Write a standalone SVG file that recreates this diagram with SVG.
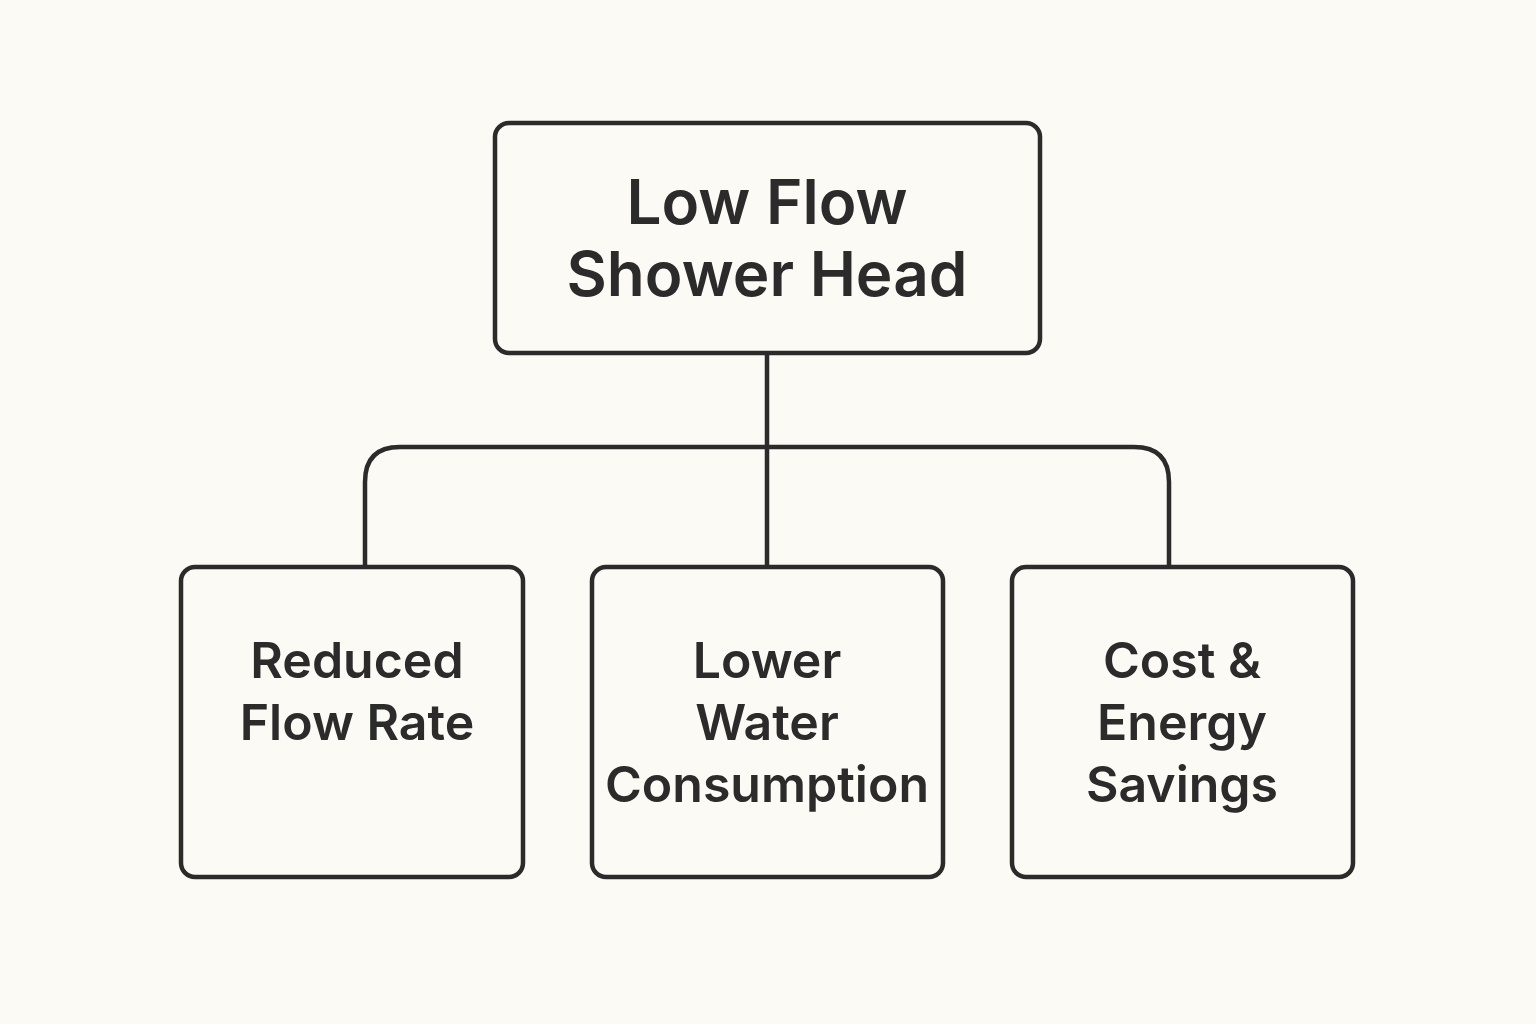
<svg xmlns="http://www.w3.org/2000/svg" width="1536" height="1024" viewBox="0 0 1536 1024">
<style>
.box{fill:none;stroke:#2b2b2b;stroke-width:4.5}
.t{font-family:Inter,"Liberation Sans",sans-serif;font-weight:600;fill:#2b2b2b;text-anchor:middle}
.big{font-size:62px}
.sm{font-size:50px}
.c{fill:none;stroke:#2b2b2b;stroke-width:4.5}
</style>
<rect width="1536" height="1024" fill="#fcfaf5"/>
<g id="connectors">
<path class="c" d="M767 353 V565"/>
<path class="c" d="M365 565 V482 Q365 447 400 447 H1134 Q1169 447 1169 482 V565"/>
</g>
<g id="root">
<rect class="box" x="495" y="123" width="545" height="230" rx="14"/>
<text class="t big" x="767" y="224">Low Flow</text>
<text class="t big" x="767" y="296">Shower Head</text>
</g>
<g id="n1">
<rect class="box" x="181" y="567" width="342" height="310" rx="14"/>
<text class="t sm" x="357" y="678">Reduced</text>
<text class="t sm" x="357" y="740">Flow Rate</text>
</g>
<g id="n2">
<rect class="box" x="592" y="567" width="351" height="310" rx="14"/>
<text class="t sm" x="767" y="678">Lower</text>
<text class="t sm" x="767" y="740">Water</text>
<text class="t sm" x="767" y="802">Consumption</text>
</g>
<g id="n3">
<rect class="box" x="1012" y="567" width="341" height="310" rx="14"/>
<text class="t sm" x="1182" y="678">Cost &amp;</text>
<text class="t sm" x="1182" y="740">Energy</text>
<text class="t sm" x="1182" y="802">Savings</text>
</g>
</svg>
